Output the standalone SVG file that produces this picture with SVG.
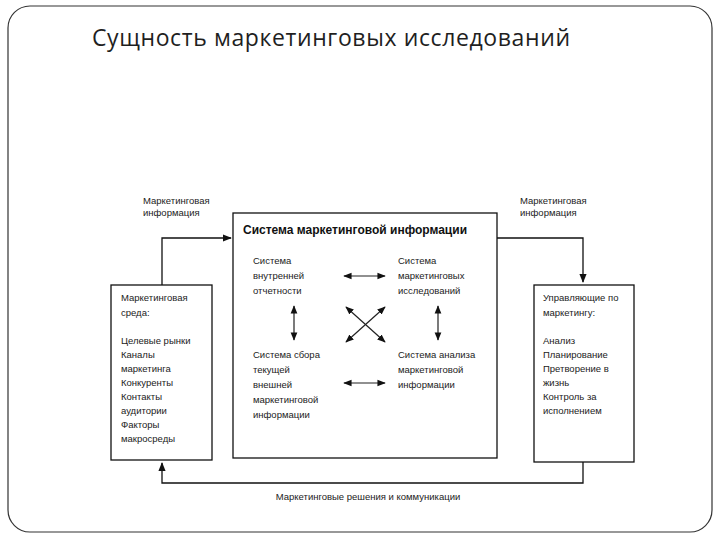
<svg xmlns="http://www.w3.org/2000/svg" width="720" height="540" viewBox="0 0 720 540">
<style>
text{font-family:"Liberation Sans",Arial,sans-serif;font-size:9.5px;fill:#222}
.b{fill:#fff;stroke:#111;stroke-width:1.3}
.c{fill:none;stroke:#111;stroke-width:1.3}
.d{fill:none;stroke:#222;stroke-width:1.2}
</style>
<defs>
<marker id="a" viewBox="0 0 10 10" refX="9" refY="5" markerWidth="7" markerHeight="7" orient="auto-start-reverse"><path d="M0,1 L10,5 L0,9 z" fill="#111"/></marker>
</defs>
<rect x="8" y="6" width="704" height="526" rx="22" fill="#fff" stroke="#333" stroke-width="1.2"/>
<text x="92" y="46" style="font-family:'Open Sans','Liberation Sans',sans-serif;font-size:23px;fill:#1f1f1f" textLength="478" lengthAdjust="spacing">Сущность маркетинговых исследований</text>
<g id="label-top-left"><text x="143" y="204">Маркетинговая</text><text x="143" y="216">информация</text></g>
<g id="label-top-right"><text x="520" y="204">Маркетинговая</text><text x="520" y="216">информация</text></g>
<g id="label-bottom"><text x="368" y="500" text-anchor="middle">Маркетинговые решения и коммуникации</text></g>
<g id="main">
<rect class="b" x="233" y="213" width="264" height="245"/>
<text x="243" y="234" style="font-size:12px;font-weight:bold;fill:#111">Система маркетинговой информации</text>
<text x="253" y="264">Система</text><text x="253" y="279">внутренней</text><text x="253" y="294">отчетности</text>
<text x="398" y="264">Система</text><text x="398" y="279">маркетинговых</text><text x="398" y="294">исследований</text>
<text x="253" y="358">Система сбора</text><text x="253" y="373">текущей</text><text x="253" y="388">внешней</text><text x="253" y="403">маркетинговой</text><text x="253" y="418">информации</text>
<text x="398" y="358">Система анализа</text><text x="398" y="373">маркетинговой</text><text x="398" y="388">информации</text>
</g>
<g id="left">
<rect class="b" x="111" y="285" width="101" height="175"/>
<text x="121" y="301">Маркетинговая</text><text x="121" y="316">среда:</text>
<text x="121" y="344">Целевые рынки</text><text x="121" y="358">Каналы</text><text x="121" y="372">маркетинга</text><text x="121" y="386">Конкуренты</text><text x="121" y="400">Контакты</text><text x="121" y="414">аудитории</text><text x="121" y="428">Факторы</text><text x="121" y="442">макросреды</text>
</g>
<g id="right">
<rect class="b" x="534" y="285" width="100" height="177"/>
<text x="543" y="301">Управляющие по</text><text x="543" y="316">маркетингу:</text>
<text x="543" y="344">Анализ</text><text x="543" y="358">Планирование</text><text x="543" y="372">Претворение в</text><text x="543" y="386">жизнь</text><text x="543" y="400">Контроль за</text><text x="543" y="414">исполнением</text>
</g>
<g id="connectors">
<polyline class="c" points="162,285 162,238 231,238" marker-end="url(#a)"/>
<polyline class="c" points="497,238 583,238 583,282" marker-end="url(#a)"/>
<polyline class="c" points="583,462 583,483 162,483 162,463" marker-end="url(#a)"/>
<line class="d" x1="344" y1="276" x2="385" y2="276" marker-start="url(#a)" marker-end="url(#a)"/>
<line class="d" x1="294" y1="306" x2="294" y2="340" marker-start="url(#a)" marker-end="url(#a)"/>
<line class="d" x1="438" y1="306" x2="438" y2="340" marker-start="url(#a)" marker-end="url(#a)"/>
<line class="d" x1="346" y1="307" x2="385" y2="342" marker-start="url(#a)" marker-end="url(#a)"/>
<line class="d" x1="385" y1="307" x2="346" y2="342" marker-start="url(#a)" marker-end="url(#a)"/>
<line class="d" x1="344" y1="383" x2="385" y2="383" marker-start="url(#a)" marker-end="url(#a)"/>
</g>
</svg>
